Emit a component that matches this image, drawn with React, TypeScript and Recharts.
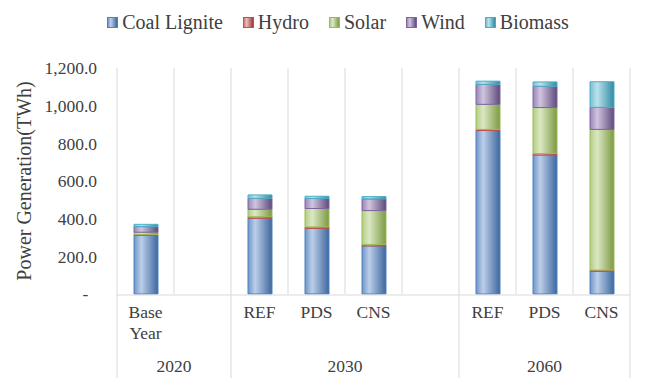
import React from 'react';
import { BarChart, Bar, XAxis, YAxis, ReferenceLine, Legend } from 'recharts';

// slots on the category axis; '' = empty spacer slot
const categories = ['Base Year', '', 'REF', 'PDS', 'CNS', '', 'REF', 'PDS', 'CNS'];
const coalLignite = [312, null, 402, 348, 255, null, 868, 738, 120];
const hydro = [4, null, 8, 8, 8, null, 6, 8, 7];
const solar = [12, null, 40, 98, 180, null, 133, 244, 747];
const wind = [30, null, 58, 53, 62, null, 106, 113, 117];
const biomass = [12, null, 18, 12, 12, null, 17, 23, 136];

const groupLabels = ['2020', '2030', '2060'];
const groupBounds = [0, 2, 6, 9]; // slot boundaries of each year group
const yTicks = [0, 200, 400, 600, 800, 1000, 1200];

const FONT = '"Liberation Serif", "Times New Roman", Times, serif';
const TEXT = '#404040';
const GRID = '#d9d9d9';
const SEP_LEN = 84; // how far the year separators reach below the axis

const series = [
    { key: 'coal', name: 'Coal Lignite', values: coalLignite, stroke: '#4f81bd', stops: ['#6f95c8', '#bccfe9', '#3d679e'] },
    { key: 'hydro', name: 'Hydro', values: hydro, stroke: '#c0504d', stops: ['#cf7a77', '#ebbcbb', '#9c3a37'] },
    { key: 'solar', name: 'Solar', values: solar, stroke: '#9bbb59', stops: ['#b3cd83', '#dbe8c4', '#7c9a42'] },
    { key: 'wind', name: 'Wind', values: wind, stroke: '#8064a2', stops: ['#9a85b8', '#d0c5de', '#5f4a7c'] },
    { key: 'biomass', name: 'Biomass', values: biomass, stroke: '#4bacc6', stops: ['#74c0d4', '#bce2ec', '#2f8aa3'] },
];

// pos = centre of each slot on a 0..N numeric helper axis (for boundaries / group labels)
const data = categories.map((name, i) => {
    const row: Record<string, any> = { name, pos: i + 0.5 };
    series.forEach((s) => { row[s.key] = s.values[i]; });
    return row;
});

const groupCenters = groupLabels.map((_, i) => (groupBounds[i] + groupBounds[i + 1]) / 2);
const slotBounds = Array.from({ length: categories.length + 1 }, (_, i) => i);
const slotDomain = [0, categories.length];

const formatY = (v: number) =>
    v === 0 ? '-\u00A0\u00A0' : v.toLocaleString('en-US', { minimumFractionDigits: 1, maximumFractionDigits: 1 });

const tickStyle = { fill: TEXT, fontSize: 17.5, fontFamily: FONT, style: { fontFamily: FONT } };

const CategoryTick = (props: any) => {
    const { x, y, payload } = props;
    const words = String(payload.value).split(' ').filter(Boolean);
    return (
        <text x={x} y={y} textAnchor="middle" fill={TEXT} fontSize={17.5} style={{ fontFamily: FONT }}>
            {words.map((w, i) => (
                <tspan key={i} x={x} dy={i === 0 ? '0.71em' : '1.15em'}>{w}</tspan>
            ))}
        </text>
    );
};

const SepTick = (props: any) => {
    const { x, y } = props;
    return <line x1={x} x2={x} y1={y} y2={y + SEP_LEN} stroke={GRID} strokeWidth={1} />;
};

const YTitle = (props: any) => {
    const { x, y, height } = props.viewBox;
    const cx = x + 14;
    const cy = y + height / 2;
    return (
        <text x={cx} y={cy} transform={`rotate(-90 ${cx} ${cy})`} textAnchor="middle" dominantBaseline="central"
            fill={TEXT} fontSize={20} style={{ fontFamily: FONT }}>
            Power Generation(TWh)
        </text>
    );
};

const LegendContent = () => (
    <div style={{ display: 'flex', justifyContent: 'center', paddingLeft: 56, paddingTop: 1, fontFamily: FONT, fontSize: 20, color: TEXT }}>
        {series.map((s) => (
            <span key={s.key} style={{ display: 'flex', alignItems: 'center', marginRight: 20, lineHeight: '22px', fontFamily: FONT }}>
                <span style={{
                    width: 9, height: 9, marginRight: 4,
                    border: `1px solid ${s.stroke}`,
                    background: `linear-gradient(to right, ${s.stops[0]} 0%, ${s.stops[1]} 30%, ${s.stops[2]} 100%)`,
                }} />
                {s.name}
            </span>
        ))}
    </div>
);

export default function App() {
    return (
        <div style={{ position: 'absolute', left: 0, top: 0, background: '#fff', fontFamily: FONT }}>
            <BarChart width={653} height={385} data={data} margin={{ top: 10, right: 23, left: 10, bottom: 5 }}
                style={{ fontFamily: FONT }}>
                <defs>
                    {series.map((s) => (
                        <linearGradient key={s.key} id={`g-${s.key}`} x1="0" y1="0" x2="1" y2="0">
                            <stop offset="0%" stopColor={s.stops[0]} />
                            <stop offset="30%" stopColor={s.stops[1]} />
                            <stop offset="100%" stopColor={s.stops[2]} />
                        </linearGradient>
                    ))}
                </defs>
                <XAxis xAxisId="a-sep" dataKey="pos" type="number" domain={slotDomain} allowDataOverflow ticks={groupBounds}
                    interval={0} tick={<SepTick />} tickLine={false} tickSize={0} tickMargin={0} axisLine={false} height={1} />
                <XAxis xAxisId="b-cat" dataKey="name" tick={<CategoryTick />} tickLine={false} tickSize={0} tickMargin={11}
                    interval={0} height={55} axisLine={{ stroke: GRID }} />
                <XAxis xAxisId="c-grp" dataKey="pos" type="number" domain={slotDomain} allowDataOverflow ticks={groupCenters}
                    interval={0} tickFormatter={(v: number) => groupLabels[groupCenters.indexOf(v)] ?? ''}
                    tickLine={false} tickSize={0} tickMargin={10} axisLine={false} height={30} tick={tickStyle} />
                <XAxis xAxisId="d-grid" dataKey="pos" type="number" domain={slotDomain} allowDataOverflow height={0} hide />
                <YAxis domain={[0, 1200]} ticks={yTicks} interval={0} tickFormatter={formatY} axisLine={false}
                    tickLine={false} tickSize={0} tickMargin={20} width={107} tick={tickStyle} label={<YTitle />} />
                {slotBounds.map((b) => (
                    <ReferenceLine key={b} xAxisId="d-grid" x={b} stroke={GRID} strokeWidth={1} ifOverflow="visible" />
                ))}
                <Legend verticalAlign="top" align="center" height={58} content={<LegendContent />} />
                {series.map((s) => (
                    <Bar key={s.key} xAxisId="b-cat" dataKey={s.key} name={s.name} stackId="a" barSize={24}
                        fill={`url(#g-${s.key})`} stroke={s.stroke} strokeWidth={1} isAnimationActive={false} />
                ))}
            </BarChart>
        </div>
    );
}
